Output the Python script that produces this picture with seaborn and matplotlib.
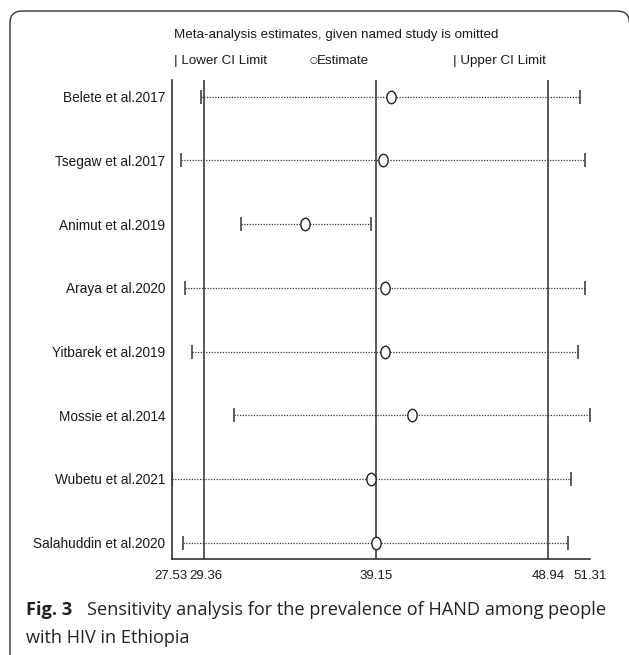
import matplotlib
matplotlib.use("Agg")
import matplotlib.pyplot as plt
from matplotlib.patches import PathPatch
from matplotlib.path import Path
from matplotlib.markers import MarkerStyle
from matplotlib.transforms import Affine2D, offset_copy
import seaborn as sns
import pandas as pd

studies = ["Belete et al.2017", "Tsegaw et al.2017", "Animut et al.2019",
           "Araya et al.2020", "Yitbarek et al.2019", "Mossie et al.2014",
           "Wubetu et al.2021", "Salahuddin et al.2020"]
estimate = [39.97, 39.51, 35.12, 39.63, 39.63, 41.18, 38.87, 39.13]
lower_ci = [29.17, 28.07, 31.44, 28.26, 28.64, 31.06, 27.53, 28.15]
upper_ci = [50.76, 51.01, 38.83, 51.03, 50.65, 51.31, 50.23, 50.08]
tick_values = [27.53, 29.36, 39.15, 48.94, 51.31]
tick_labels = ["27.53", "29.36", "39.15", "48.94", "51.31"]
ref_lines = [29.36, 39.15, 48.94]

df = pd.DataFrame({"study": studies, "est": estimate,
                   "lo": lower_ci, "hi": upper_ci})
df["row"] = range(len(df))

sns.set_style("white")
plt.rcParams["font.family"] = ["Liberation Sans", "DejaVu Sans"]
FS = 9.8
HFS = 9.6

W, H = 629, 655
fig = plt.figure(figsize=(W / 100, H / 100), dpi=100)

def fx(px):
    return px / W

def fy(py):
    return 1 - py / H

# plot area in pixels
x0, x1 = 172, 590
y_top, y_bot = 80, 558.7
ax = fig.add_axes([fx(x0), fy(y_bot), fx(x1 - x0), (y_bot - y_top) / H])

row_px = 63.7
first_row = 96.7
ax.set_xlim(tick_values[0], tick_values[-1])
ax.set_ylim(7 + (y_bot - 542.7) / row_px, -(first_row - y_top) / row_px)

for v in ref_lines:
    ax.axvline(v, color="#3c3c3c", lw=1.2, zorder=1)

ax.hlines(df["row"], df["lo"], df["hi"], colors="#333333", lw=0.9,
          linestyles=(0, (1, 1.2)), zorder=2)
sns.scatterplot(data=df, x="lo", y="row", marker="|", s=110, color="#333333",
                linewidth=1.1, ax=ax, zorder=3, legend=False)
sns.scatterplot(data=df, x="hi", y="row", marker="|", s=110, color="#333333",
                linewidth=1.1, ax=ax, zorder=3, legend=False)
oval = MarkerStyle("o", transform=Affine2D().scale(0.75, 1.0))
sns.scatterplot(data=df, x="est", y="row", marker=oval, s=80, facecolor="white",
                edgecolor="#222222", linewidth=1.0, ax=ax, zorder=4, legend=False)

ax.set_yticks(df["row"])
ax.set_yticklabels(df["study"], fontsize=FS, color="#1a1a1a")
ax.set_xticks(tick_values)
ax.set_xticklabels(tick_labels, fontsize=9.5, color="#1a1a1a")
ax.tick_params(axis="y", length=0, pad=5)
ax.tick_params(axis="x", direction="out", length=6, width=1.1, color="#222222", pad=2)
# the two leftmost tick labels sit very close together; nudge them apart
xt = ax.get_xticklabels()
xt[0].set_transform(offset_copy(xt[0].get_transform(), fig=fig, x=-1.5, units="dots"))
xt[1].set_transform(offset_copy(xt[1].get_transform(), fig=fig, x=1.5, units="dots"))
ax.set_xlabel("")
ax.set_ylabel("")
for s in ["top", "right"]:
    ax.spines[s].set_visible(False)
for s in ["left", "bottom"]:
    ax.spines[s].set_color("#222222")
    ax.spines[s].set_linewidth(1.1)

# header
fig.text(fx(174), fy(35), "Meta-analysis estimates, given named study is omitted",
         fontsize=HFS, va="center", ha="left", color="#1a1a1a")
fig.text(fx(174), fy(61), "| Lower CI Limit", fontsize=HFS, va="center",
         ha="left", color="#1a1a1a")
fig.text(fx(309), fy(61), "\u25cb", fontsize=6.5, va="center", ha="left",
         color="#1a1a1a", family=["DejaVu Sans"])
fig.text(fx(317), fy(61), "Estimate", fontsize=HFS, va="center", ha="left",
         color="#1a1a1a")
fig.text(fx(453), fy(61), "| Upper CI Limit", fontsize=HFS, va="center",
         ha="left", color="#1a1a1a")

# caption
CAP = ["Open Sans", "DejaVu Sans"]
CFS = 13.1
fig.text(fx(26), fy(610), "Fig. 3", fontsize=CFS, fontweight="bold",
         va="center", ha="left", color="#222222", family=CAP)
fig.text(fx(87), fy(610), "Sensitivity analysis for the prevalence of HAND among people",
         fontsize=CFS, va="center", ha="left", color="#222222", family=CAP)
fig.text(fx(26), fy(638), "with HIV in Ethiopia", fontsize=CFS, va="center",
         ha="left", color="#222222", family=CAP)

# panel frame: left edge, top edge and rounded corners
r = 12
pts = [(10, 660), (10, 11 + r), (10, 11), (10 + r, 11),
       (629 - r, 11), (629.5, 11), (629.5, 11 + r)]
codes = [Path.MOVETO, Path.LINETO, Path.CURVE3, Path.CURVE3,
         Path.LINETO, Path.CURVE3, Path.CURVE3]
frame_path = Path([(fx(px), fy(py)) for px, py in pts], codes)
fig.patches.append(PathPatch(frame_path, transform=fig.transFigure, fill=False,
                             edgecolor="#333333", lw=1.0, clip_on=False))

fig.savefig("out.png", dpi=100)
